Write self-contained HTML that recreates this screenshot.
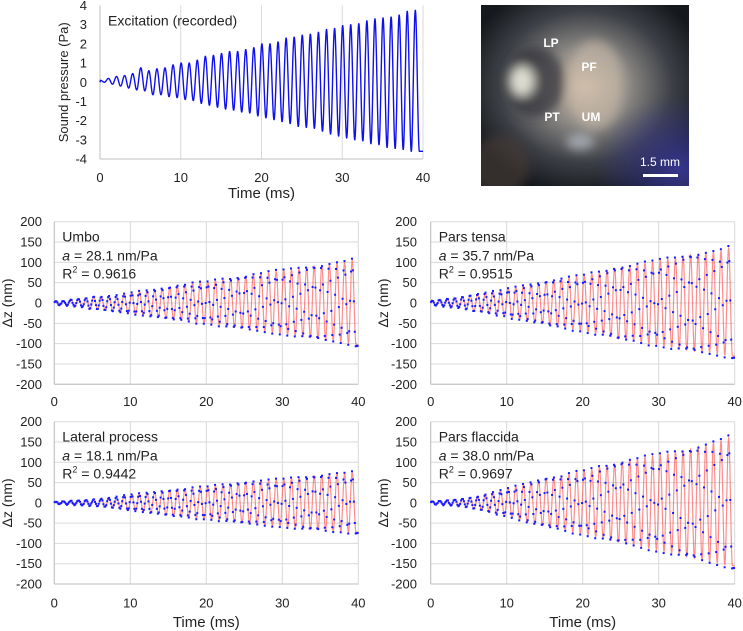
<!DOCTYPE html>
<html><head><meta charset="utf-8">
<style>
html,body{margin:0;padding:0;background:#fff;}
svg{display:block;font-family:"Liberation Sans",sans-serif;}
</style></head>
<body>
<svg id="fig" width="743" height="631" viewBox="0 0 743 631" xmlns="http://www.w3.org/2000/svg">
<defs>
<radialGradient id="g1" cx="0.5" cy="0.45" r="0.6">
<stop offset="0" stop-color="#c9b6a3"/><stop offset="0.35" stop-color="#8d8a86"/><stop offset="0.7" stop-color="#3c3f45"/><stop offset="1" stop-color="#15181c"/>
</radialGradient>
<radialGradient id="g2" cx="0.95" cy="0.9" r="0.4">
<stop offset="0" stop-color="#3a3a9a" stop-opacity="0.9"/><stop offset="1" stop-color="#3a3a9a" stop-opacity="0"/>
</radialGradient>
<filter id="blur" x="-50%" y="-50%" width="200%" height="200%"><feGaussianBlur stdDeviation="5"/></filter>
<clipPath id="pc"><rect x="481" y="5" width="208" height="181"/></clipPath>
</defs>
<g id="photo">
<rect x="481" y="5" width="208" height="181" fill="url(#g1)"/>
<g clip-path="url(#pc)" filter="url(#blur)">
<ellipse cx="535" cy="82" rx="30" ry="35" fill="#2c3036" opacity="0.7"/>
<ellipse cx="522" cy="81" rx="12" ry="15" fill="#dcdcd0"/>
<ellipse cx="595" cy="85" rx="28" ry="45" fill="#d4c4b0" opacity="0.5"/>
<ellipse cx="580" cy="142" rx="14" ry="8" fill="#c8ced8" opacity="0.6"/>
<ellipse cx="500" cy="165" rx="30" ry="30" fill="#4a3a35" opacity="0.6"/>
</g>
<rect x="481" y="5" width="208" height="181" fill="url(#g2)"/>
<g font-weight="bold" fill="#fff" font-size="12">
<text x="551" y="47" text-anchor="middle">LP</text>
<text x="589" y="71" text-anchor="middle">PF</text>
<text x="552" y="121" text-anchor="middle">PT</text>
<text x="591" y="121" text-anchor="middle">UM</text>
</g>
<text x="660" y="166" text-anchor="middle" fill="#fff" font-size="12">1.5 mm</text>
<rect x="643" y="174" width="35" height="3" fill="#fff"/>
</g>
</svg>
<script>
const NS="http://www.w3.org/2000/svg";
const svg=document.getElementById('fig');

// ---- data ----
const pressurePeaks=[0.1,0.2,0.3,0.35,0.45,0.75,0.6,0.7,0.75,0.9,1.0,1.0,1.15,1.35,1.4,1.5,1.6,1.6,1.7,1.8,2.0,2.0,2.1,2.3,2.35,2.45,2.5,2.6,2.75,2.8,2.95,3.0,3.05,3.2,3.3,3.35,3.4,3.5,3.7,3.75];
const pressureTroughs=[0.0,-0.1,-0.2,-0.3,-0.4,-0.45,-0.65,-0.65,-0.75,-0.8,-0.9,-0.95,-1.1,-1.2,-1.3,-1.4,-1.45,-1.55,-1.6,-1.75,-1.85,-1.95,-2.05,-2.15,-2.3,-2.35,-2.4,-2.55,-2.7,-2.8,-2.9,-3.0,-3.05,-3.2,-3.25,-3.4,-3.45,-3.5,-3.6,-3.6];
const umboPeaks=[5,5,8,10,12,15,15,17,18,22,25,28,30,32,35,38,42,45,48,50,52,55,58,60,62,65,70,72,75,78,80,82,85,88,90,92,95,98,100,105];
const umboTroughs=[-5,-6,-8,-10,-14,-15,-18,-20,-22,-25,-28,-30,-33,-35,-38,-40,-42,-45,-48,-50,-52,-55,-58,-60,-62,-65,-68,-70,-72,-75,-78,-80,-82,-85,-88,-90,-92,-95,-98,-102];
const tensaPeaks=[6,8,10,12,15,18,22,25,28,30,35,38,42,45,48,52,55,60,62,65,68,72,75,80,85,88,90,95,98,100,105,108,110,115,118,120,122,125,128,135];
const tensaTroughs=[-6,-8,-10,-12,-15,-20,-22,-25,-30,-32,-38,-40,-44,-48,-50,-55,-58,-62,-65,-68,-72,-75,-78,-82,-88,-90,-92,-96,-100,-102,-106,-110,-112,-115,-118,-120,-122,-125,-128,-130];
const lateralPeaks=[3,4,5,6,7,8,10,12,14,18,20,22,24,26,28,30,32,34,36,38,40,42,44,46,48,50,52,54,55,57,58,60,62,64,66,68,70,72,72,75];
const lateralTroughs=[-3,-4,-5,-6,-7,-8,-10,-12,-14,-18,-20,-22,-25,-27,-30,-32,-34,-36,-38,-40,-41,-43,-45,-47,-49,-51,-53,-55,-56,-58,-60,-62,-64,-65,-66,-68,-70,-70,-72,-72];
const flaccidaPeaks=[4,5,6,8,10,12,15,20,25,30,35,40,45,50,55,60,62,65,70,75,78,82,88,92,95,100,105,108,112,115,118,122,125,128,132,138,142,148,152,160];
const flaccidaTroughs=[-4,-5,-6,-8,-10,-14,-18,-22,-28,-32,-36,-42,-48,-52,-56,-60,-64,-68,-72,-76,-80,-84,-88,-92,-96,-100,-104,-108,-112,-116,-120,-124,-128,-132,-136,-140,-144,-148,-152,-155];
const noise=[0.06,-0.08,0.03,0.1,-0.05,-0.02,0.09,-0.1,0.04,-0.06,0.01,0.07];
const xTicks=[0,10,20,30,40];
const pTicks=[4,3,2,1,0,-1,-2,-3,-4];
const zTicks=[200,150,100,50,0,-50,-100,-150,-200];

function el(tag,attrs,parent){const e=document.createElementNS(NS,tag);for(const k in attrs)e.setAttribute(k,attrs[k]);(parent||svg).appendChild(e);return e;}

function makeCurve(peaks,troughs,ph){
  const knots=[];
  if(ph>0)knots.push([0,0]);
  for(let k=0;k<peaks.length;k++){knots.push([k+ph,peaks[k]]);knots.push([k+0.5+ph,troughs[k]]);}
  knots.sort((a,b)=>a[0]-b[0]);
  return function(t){
    if(t<=knots[0][0])return knots[0][1];
    for(let i=0;i<knots.length-1;i++){
      const a=knots[i],b=knots[i+1];
      if(t>=a[0]&&t<=b[0]&&b[0]>a[0]){const u=(t-a[0])/(b[0]-a[0]);const w=(1-Math.cos(Math.PI*u))/2;return a[1]+(b[1]-a[1])*w;}
    }
    return knots[knots.length-1][1];
  };
}

function panel(o){
  const g=el('g',{});
  
  
  const X=t=>o.x0+(o.x1-o.x0)*t/40;
  const Y=v=>o.yTop+(o.yBot-o.yTop)*(o.vmax-v)/(o.vmax-o.vmin);
  xTicks.forEach(t=>{const l=el('line',{x1:X(t),x2:X(t),y1:o.yTop,y2:o.yBot,stroke:'#d9d9d9','stroke-width':1},g);
    });
  if(o.hgrid)o.yTicks.forEach(v=>{const l=el('line',{x1:o.x0,x2:o.x1,y1:Y(v),y2:Y(v),stroke:'#d9d9d9','stroke-width':1},g);
    });
  const ax=el('line',{x1:o.x0,x2:o.x1,y1:o.yBot,y2:o.yBot,stroke:'#bfbfbf','stroke-width':1},g);
  
  const ay=el('line',{x1:o.x0,x2:o.x0,y1:o.yTop,y2:o.yBot,stroke:'#bfbfbf','stroke-width':1},g);
  
  xTicks.forEach(t=>{const tx=el('text',{x:X(t),y:o.tickY,'text-anchor':'middle','font-size':13,fill:'#222'},g);tx.textContent=t;
    });
  o.yTicks.forEach(v=>{const tx=el('text',{x:o.yLabX,y:Y(v)+4.5,'text-anchor':'end','font-size':13,fill:'#222'},g);tx.textContent=v;
    });
  if(o.xTitle){const tx=el('text',{x:(o.x0+o.x1)/2,y:o.xTitleY,'text-anchor':'middle','font-size':15,fill:'#222'},g);tx.textContent='Time (ms)';
    }
  const yc=(o.yTop+o.yBot)/2;
  const yt=el('text',{x:o.yTitleX,y:yc,'text-anchor':'middle','font-size':o.yTitleSize,fill:'#222',transform:`rotate(-90 ${o.yTitleX} ${yc})`},g);
  yt.textContent=o.yTitle;
  const f=makeCurve(o.peaks,o.troughs,o.ph);
  if(o.line){
    let d='';for(let t=0;t<=40.0001;t+=0.02){d+=(d?'L':'M')+X(t).toFixed(2)+' '+Y(f(t)).toFixed(2);}
    const p=el('path',{d:d,fill:'none',stroke:o.line,'stroke-width':o.lw,'stroke-opacity':o.lo},g);
    
  }
  if(o.dots){
    const dg=el('g',{fill:'#1a1aff'},g);
    
    let i=0;
    for(let t=0.05;t<=40;t+=0.1234){
      const amp=(o.vmax-o.vmin);
      const v=f(t+0.03)*1.04+noise[i%noise.length]*amp*0.025;
      const r=el('rect',{x:X(t)-1,y:Y(v)-1,width:2,height:2},dg);
      
      i++;
    }
  }
  if(o.note){
    const nx=o.x0+8;
    const t1=el('text',{x:nx,y:o.yTop+20,'font-size':14,fill:'#222'},g);t1.textContent=o.note[0];
    
    if(o.note.length>1){
      const t2=el('text',{x:nx,y:o.yTop+39,'font-size':14,fill:'#222'},g);
      t2.innerHTML='<tspan font-style="italic">a</tspan> = '+o.note[1];
      
      const t3=el('text',{x:nx,y:o.yTop+57,'font-size':14,fill:'#222'},g);
      t3.innerHTML='R<tspan font-size="9" dy="-6">2</tspan><tspan dy="6"> = '+o.note[2]+'</tspan>';
      
    }
  }
}

panel({name:'excitation-chart',x0:100,x1:423,yTop:5.5,yBot:159,vmin:-4,vmax:4,yTicks:pTicks,hgrid:false,
  yLabX:87,tickY:182,xTitle:true,xTitleY:198,yTitle:'Sound pressure (Pa)',yTitleX:68,yTitleSize:13,
  peaks:pressurePeaks,troughs:pressureTroughs,ph:0.05,line:'#1010ee',lw:1.4,lo:1,dots:false,note:['Excitation (recorded)']});
const dz='Δz (nm)';
panel({name:'umbo-chart',x0:54.3,x1:358.3,yTop:221.7,yBot:384.3,vmin:-200,vmax:200,yTicks:zTicks,hgrid:true,
  yLabX:42,tickY:406,xTitle:false,yTitle:dz,yTitleX:12,yTitleSize:14,
  peaks:umboPeaks,troughs:umboTroughs,ph:0.2,line:'#ff3030',lw:1.2,lo:0.55,dots:true,note:['Umbo','28.1 nm/Pa','0.9616']});
panel({name:'pars-tensa-chart',x0:430.7,x1:734.7,yTop:221.7,yBot:384.3,vmin:-200,vmax:200,yTicks:zTicks,hgrid:true,
  yLabX:417,tickY:406,xTitle:false,yTitle:dz,yTitleX:388,yTitleSize:14,
  peaks:tensaPeaks,troughs:tensaTroughs,ph:0.2,line:'#ff3030',lw:1.2,lo:0.55,dots:true,note:['Pars tensa','35.7 nm/Pa','0.9515']});
panel({name:'lateral-process-chart',x0:54.3,x1:358.3,yTop:421.7,yBot:584,vmin:-200,vmax:200,yTicks:zTicks,hgrid:true,
  yLabX:42,tickY:607.5,xTitle:true,xTitleY:627,yTitle:dz,yTitleX:12,yTitleSize:14,
  peaks:lateralPeaks,troughs:lateralTroughs,ph:0.2,line:'#ff3030',lw:1.2,lo:0.55,dots:true,note:['Lateral process','18.1 nm/Pa','0.9442']});
panel({name:'pars-flaccida-chart',x0:430.7,x1:734.7,yTop:421.7,yBot:584,vmin:-200,vmax:200,yTicks:zTicks,hgrid:true,
  yLabX:417,tickY:607.5,xTitle:true,xTitleY:627,yTitle:dz,yTitleX:388,yTitleSize:14,
  peaks:flaccidaPeaks,troughs:flaccidaTroughs,ph:0.2,line:'#ff3030',lw:1.2,lo:0.55,dots:true,note:['Pars flaccida','38.0 nm/Pa','0.9697']});
</script>
</body></html>
